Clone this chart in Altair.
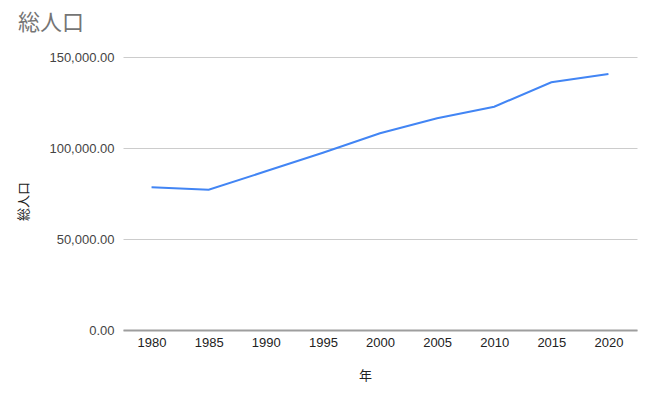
import altair as alt
import pandas as pd

years = ["1980", "1985", "1990", "1995", "2000", "2005", "2010", "2015", "2020"]
population = [78400, 77100, 87200, 97400, 108100, 116300, 122700, 136100, 140700]

df = pd.DataFrame({"年": years, "総人口": population})

FONT = "Liberation Sans, Arial, Noto Sans CJK JP, sans-serif"

chart = alt.Chart(df).mark_line(color="#4285F4", strokeWidth=2).encode(
    x=alt.X("年:O", sort=years,
            scale=alt.Scale(type="point", padding=0.5),
            axis=alt.Axis(title="年", labelAngle=0, ticks=False, grid=False,
                          domainColor="#9e9e9e", domainWidth=2,
                          labelColor="#222222", labelFontSize=13, labelPadding=6,
                          labelFont=FONT, titleFont=FONT, titleFontSize=13,
                          titleFontWeight="normal", titleColor="#222222",
                          titleX=242, titleY=45, titleBaseline="middle")),
    y=alt.Y("総人口:Q",
            scale=alt.Scale(domain=[0, 150000], nice=False),
            axis=alt.Axis(title="総人口", values=[0, 50000, 100000, 150000], format=",.2f",
                          ticks=False, domain=False, gridColor="#cccccc",
                          labelColor="#444444", labelFontSize=13, labelPadding=9,
                          labelFont=FONT, titleFont=FONT, titleFontSize=13,
                          titleFontWeight="normal", titleColor="#222222",
                          titleAngle=-90, titleX=-100, titleY=144,
                          titleBaseline="middle", titleAlign="center")),
).properties(
    width=514,
    height=273,
    title=alt.TitleParams("総人口", anchor="start", frame="group", dx=-105, offset=16,
                          fontSize=22, color="#757575", fontWeight="normal", font=FONT),
    autosize=alt.AutoSizeParams(type="none"),
    padding={"left": 123, "top": 57, "right": 17, "bottom": 68},
).configure_view(stroke=None)

chart.save("out.html", embed_options={"renderer": "svg", "actions": False})
